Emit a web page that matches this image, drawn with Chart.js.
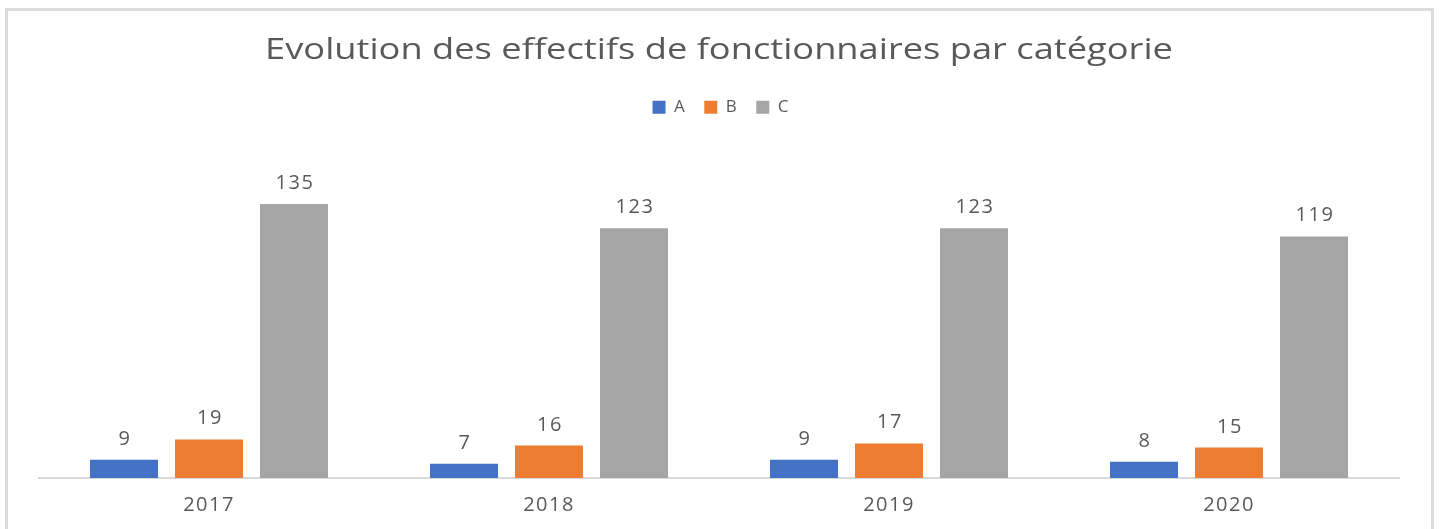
<!DOCTYPE html>
<html lang="fr">
<head>
  <meta charset="UTF-8" />
  <title>Evolution des effectifs de fonctionnaires par catégorie</title>
  <script src="https://cdn.jsdelivr.net/npm/chart.js"></script>
  <style>
    html, body {
      margin: 0;
      padding: 0;
      background: #fff;
      overflow: hidden;
      width: 1440px;
      height: 529px;
    }
    #cadre {
      position: absolute;
      left: 5px;
      top: 8px;
      width: 1423px;
      height: 540px;
      border: 3px solid #dcdcdc;
    }
    #zone {
      position: absolute;
      left: 0;
      top: 0;
      width: 1440px;
      height: 544px;
    }
  </style>
</head>
<body>
  <div id="cadre"></div>
  <div id="zone"><canvas id="graphique"></canvas></div>

  <script>
    const annees = ["2017", "2018", "2019", "2020"];
    const categorieA = [9, 7, 9, 8];
    const categorieB = [19, 16, 17, 15];
    const categorieC = [135, 123, 123, 119];

    const gris = "#595959";
    const police = "'Open Sans', 'Liberation Sans', sans-serif";

    // le texte du modèle est étiré en largeur : on étire le titre pareil
    const etirement = {
      id: "etirement",
      afterInit(chart) {
        const titre = chart.titleBlock;
        if (!titre) return;
        const dessin = titre.draw.bind(titre);
        titre.draw = function () {
          const ctx = chart.ctx;
          const cx = (titre.left + titre.right) / 2;
          ctx.save();
          ctx.letterSpacing = "0px";
          ctx.translate(cx, 0);
          ctx.scale(1.25, 1);
          ctx.translate(-cx, 0);
          dessin();
          ctx.restore();
        };
      },
      beforeDraw(chart) {
        chart.ctx.letterSpacing = "1.5px";
      }
    };

    // valeurs au-dessus des barres
    const etiquettes = {
      id: "etiquettes",
      afterDatasetsDraw(chart) {
        const ctx = chart.ctx;
        ctx.save();
        ctx.font = "20px " + police;
        ctx.fillStyle = gris;
        ctx.textAlign = "center";
        ctx.textBaseline = "alphabetic";
        chart.data.datasets.forEach((ds, i) => {
          chart.getDatasetMeta(i).data.forEach((barre, j) => {
            ctx.fillText(ds.data[j], barre.x + 1, barre.y - 15);
          });
        });
        ctx.restore();
      }
    };

    new Chart(document.getElementById("graphique"), {
      type: "bar",
      data: {
        labels: annees,
        datasets: [
          { label: "A", data: categorieA, backgroundColor: "#4472c4" },
          { label: "B", data: categorieB, backgroundColor: "#ed7d31" },
          { label: "C", data: categorieC, backgroundColor: "#a5a5a5" }
        ]
      },
      options: {
        responsive: true,
        maintainAspectRatio: false,
        animation: false,
        categoryPercentage: 0.75,
        barPercentage: 0.8,
        layout: {
          padding: { left: 39, right: 41, top: 0, bottom: 12 }
        },
        plugins: {
          title: {
            display: true,
            text: "Evolution des effectifs de fonctionnaires par catégorie",
            color: gris,
            font: { family: police, size: 29, weight: "normal" },
            padding: { top: 33, bottom: 13 }
          },
          legend: {
            display: true,
            labels: {
              color: gris,
              font: { family: police, size: 17 },
              boxWidth: 13,
              boxHeight: 13,
              padding: 18
            }
          },
          tooltip: { enabled: false }
        },
        scales: {
          x: {
            grid: { display: false, drawTicks: false },
            border: { display: true, color: "#d9d9d9", width: 2 },
            ticks: { color: gris, font: { family: police, size: 20 }, padding: 15 }
          },
          y: {
            display: false,
            min: 0,
            max: 173.5
          }
        }
      },
      plugins: [etirement, etiquettes]
    });
  </script>
</body>
</html>
